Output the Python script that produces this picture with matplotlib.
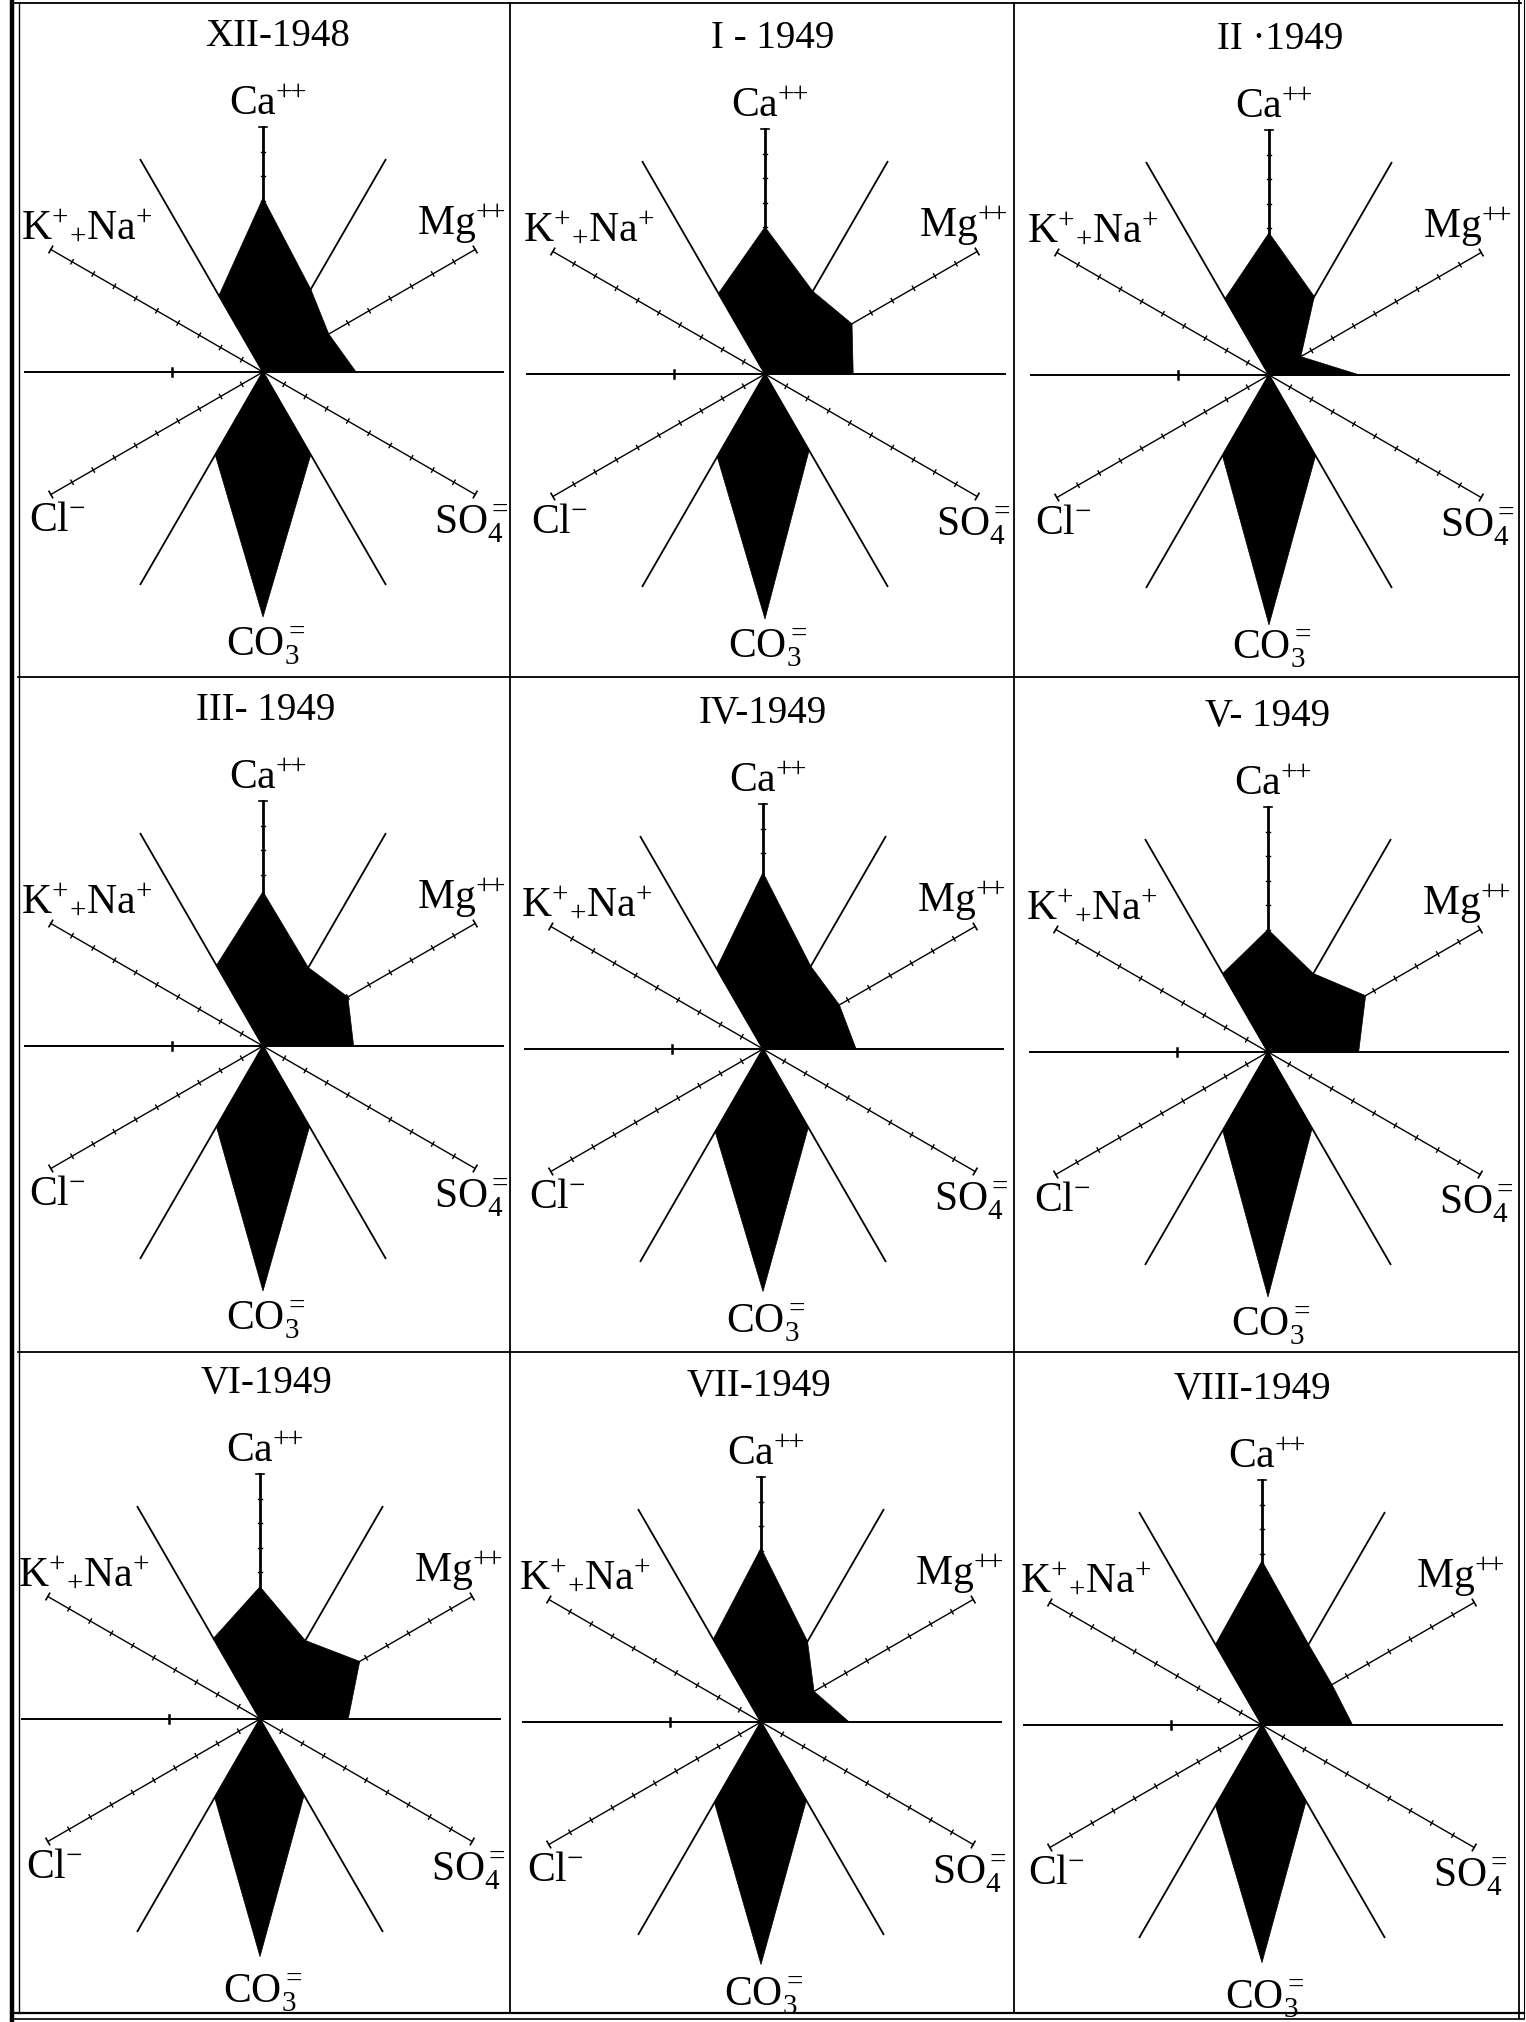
import numpy as np
import matplotlib
matplotlib.use('Agg')
import matplotlib.pyplot as plt

plt.rcParams['font.family'] = ['Liberation Serif', 'DejaVu Serif']
plt.rcParams['mathtext.fontset'] = 'custom'
plt.rcParams['mathtext.rm'] = 'Liberation Serif'
plt.rcParams['mathtext.it'] = 'Liberation Serif:italic'
plt.rcParams['mathtext.bf'] = 'Liberation Serif:bold'

months = ['XII-1948', 'I - 1949', 'II ·1949', 'III- 1949', 'IV-1949',
          'V- 1949', 'VI-1949', 'VII-1949', 'VIII-1949']

# ray values in % of axis length, rays every 30 deg counter-clockwise from east
east = [38, 36, 37, 37, 38, 37, 36, 36, 37]          # 0
mg = [31, 41, 15, 40, 36, 46, 47, 25, 33]            # 30  Mg++
ne = [39, 39, 37, 37, 39, 37, 37, 38, 38]            # 60
ca = [71, 60, 58, 63, 72, 50, 54, 71, 67]            # 90  Ca++
nw = [36, 38, 36, 38, 38, 37, 38, 39, 38]            # 120
kna = [0, 0, 0, 0, 0, 0, 0, 0, 0]                    # 150 K+ + Na+
west = [0, 0, 0, 0, 0, 0, 0, 0, 0]                   # 180
cl = [0, 0, 0, 0, 0, 0, 0, 0, 0]                     # 210 Cl-
sw = [39, 39, 38, 38, 39, 37, 37, 38, 38]            # 240
co3 = [100, 100, 102, 100, 99, 100, 97, 99, 97]      # 270 CO3=
se = [39, 36, 38, 38, 37, 36, 36, 37, 36]            # 300
so4 = [0, 0, 0, 0, 0, 0, 0, 0, 0]                    # 330 SO4=

ion_labels = [r'Ca$^{+\!\!+}$', r'Mg$^{+\!\!+}$', r'K$^{+}{}_{+}$Na$^{+}$',
              r'Cl$^{-}$', r'SO$_{4}^{=}$', r'CO$_{3}^{=}$']
label_pos = [(2, 105), (81, 56), (-72, 55), (-84, -65), (85, -66), (1, -116)]

# layout (pixels of the page)
W, H = 1526, 2022
S = 2.45  # px per unit
col_edges = [18, 510, 1014, 1519]
row_edges = [3, 677, 1352, 2013]
centers = [(263, 372), (765, 374), (1269, 375),
           (263, 1046), (763, 1049), (1268, 1052),
           (260, 1719), (761, 1722), (1262, 1725)]
title_dx = [6, 3, 4.5, 1, 0, 0, 2.5, -1, -4]

ang = np.deg2rad(np.arange(0, 360, 30))

fig = plt.figure(figsize=(W / 100, H / 100), dpi=100)
bg = fig.add_axes([0, 0, 1, 1])
bg.set_xlim(0, W)
bg.set_ylim(H, 0)
bg.axis('off')

# page frame
bg.plot([12, 12], [0, 2020], color='k', lw=3.2)
bg.plot([19, 19], [3, 2013], color='k', lw=1.0)
bg.plot([12, 1521], [3, 3], color='k', lw=1.3)
bg.plot([1519, 1519], [0, 2018], color='k', lw=1.3)
bg.plot([1524, 1524], [0, 2018], color='k', lw=0.8)
bg.plot([12, 1524], [2013, 2013], color='k', lw=1.6)
bg.plot([12, 1524], [2019, 2019], color='k', lw=1.2)
for x in col_edges[1:-1]:
    bg.plot([x, x], [row_edges[0], row_edges[-1]], color='k', lw=1.3)
for y in row_edges[1:-1]:
    bg.plot([col_edges[0], col_edges[-1]], [y, y], color='k', lw=1.3)

ticks = np.arange(10, 100, 10)

for i, (cx, cy) in enumerate(centers):
    r, c = divmod(i, 3)
    x0, x1 = col_edges[c], col_edges[c + 1]
    y0, y1 = row_edges[r], row_edges[r + 1]
    ax = fig.add_axes([x0 / W, 1 - y1 / H, (x1 - x0) / W, (y1 - y0) / H])
    ax.set_xlim((x0 - cx) / S, (x1 - cx) / S)
    ax.set_ylim((cy - y1) / S, (cy - y0) / S)
    ax.axis('off')
    ax.patch.set_alpha(0)

    # horizontal line with its single tick
    ax.plot([-97, 98], [0, 0], color='k', lw=1.4)
    ax.plot([-37, -37], [-1.7, 1.7], color='k', lw=1.8)

    # plain rays
    for a in np.deg2rad([60, 120, 240, 300]):
        ax.plot([0, 100 * np.cos(a)], [0, 100 * np.sin(a)], color='k', lw=1.3)

    # scaled rays with ticks
    for deg in [30, 90, 150, 210, 330]:
        a = np.deg2rad(deg)
        u = np.array([np.cos(a), np.sin(a)])
        p = np.array([-np.sin(a), np.cos(a)])
        ax.plot([0, 100 * u[0]], [0, 100 * u[1]], color='k',
                lw=2.0 if deg == 90 else 1.0)
        for t in ticks:
            q = t * u
            ax.plot([q[0] - 1.0 * p[0], q[0] + 1.0 * p[0]],
                    [q[1] - 1.0 * p[1], q[1] + 1.0 * p[1]], color='k', lw=1.0)
        q = 100 * u
        ax.plot([q[0] - 1.5 * p[0], q[0] + 1.5 * p[0]],
                [q[1] - 1.5 * p[1], q[1] + 1.5 * p[1]], color='k', lw=1.2)

    vals = np.array([east[i], mg[i], ne[i], ca[i], nw[i], kna[i], west[i],
                     cl[i], sw[i], co3[i], se[i], so4[i]], dtype=float)
    ax.fill(vals * np.cos(ang), vals * np.sin(ang), color='k', lw=0.5, zorder=3)

    for lab, (lx, ly) in zip(ion_labels, label_pos):
        ax.text(lx, ly, lab, ha='center', va='baseline', fontsize=30)
    ax.text(title_dx[i], 133, months[i], ha='center', va='baseline', fontsize=28)

fig.savefig('out.png', dpi=100)
